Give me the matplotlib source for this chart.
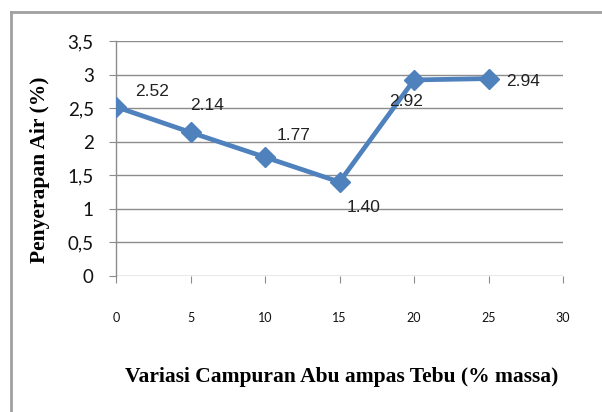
import matplotlib.pyplot as plt
from matplotlib.lines import Line2D
from matplotlib.ticker import FuncFormatter

# data
variasi = [0, 5, 10, 15, 20, 25]
penyerapan = [2.52, 2.14, 1.77, 1.40, 2.92, 2.94]
label_txt = ["2.52", "2.14", "1.77", "1.40", "2.92", "2.94"]
# label offsets (pixels) relative to each point
offsets = [(36, 15), (17, 27), (29, 22), (24, -25), (-8, -22), (35, -3)]

blue = "#4F81BD"
grey = "#8C8C8C"

fig = plt.figure(figsize=(6.02, 4.12), dpi=100)
ax = fig.add_axes([116 / 602, 1 - 276 / 412, 447 / 602, 235 / 412])

ax.plot(variasi, penyerapan, color=blue, lw=3.4, marker="D", markersize=10,
        markerfacecolor=blue, markeredgecolor=blue, zorder=3)

for x, y, t, (dx, dy) in zip(variasi, penyerapan, label_txt, offsets):
    ax.annotate(t, (x, y), xytext=(dx, dy), textcoords="offset pixels",
                ha="center", va="center", fontsize=12.5, color="#222222",
                family="Liberation Sans")

ax.set_xlim(0, 30)
ax.set_ylim(0, 3.5)
ax.set_xticks(range(0, 31, 5))
ax.set_yticks([i * 0.5 for i in range(8)])
ax.yaxis.set_major_formatter(FuncFormatter(lambda v, p: ("%g" % v).replace(".", ",")))

ax.grid(axis="y", color=grey, lw=1)
ax.set_axisbelow(True)
for s in ["top", "right", "bottom"]:
    ax.spines[s].set_visible(False)
ax.spines["left"].set_color(grey)
ax.spines["left"].set_linewidth(1)

ax.tick_params(axis="y", length=5, color=grey, labelsize=13.5, pad=11)
ax.tick_params(axis="x", length=5, color=grey, labelsize=9, pad=21)
for lb in ax.get_yticklabels() + ax.get_xticklabels():
    lb.set_family("Lato")
    lb.set_color("#111111")

fig.text(40 / 602, 1 - 170 / 412, "Penyerapan Air (%)", family="Liberation Serif",
         fontweight="bold", fontsize=15.5, rotation=90, ha="center", va="center")
fig.text(342 / 602, 1 - 377 / 412, "Variasi Campuran Abu ampas Tebu (% massa)",
         family="Liberation Serif", fontweight="bold", fontsize=15.5,
         ha="center", va="center")

# chart border (left and top visible only)
fig.add_artist(Line2D([11 / 602, 11 / 602], [0, 1 - 12 / 412],
                      transform=fig.transFigure, color="#A0A0A0", lw=2))
fig.add_artist(Line2D([11 / 602, 1], [1 - 12 / 412, 1 - 12 / 412],
                      transform=fig.transFigure, color="#A0A0A0", lw=2))

fig.savefig("out.png", dpi=100)
